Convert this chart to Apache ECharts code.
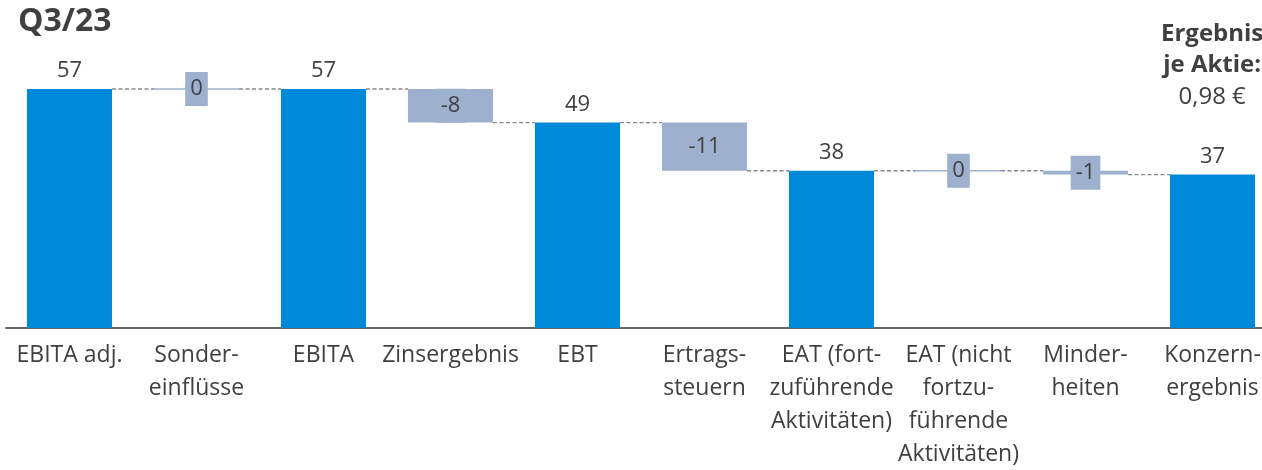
<!DOCTYPE html>
<html>
<head>
<meta charset="utf-8">
<script src="https://cdn.jsdelivr.net/npm/echarts@6/dist/echarts.min.js"></script>
<style>
html,body{margin:0;padding:0;background:#fff;}
#chart{width:1262px;height:470px;}
</style>
</head>
<body>
<div id="chart"></div>
<script>
// ---- data ----
const titleText = 'Q3/23';
const categories = ['EBITA adj.', 'Sonder-\neinflüsse', 'EBITA', 'Zinsergebnis', 'EBT', 'Ertrags-\nsteuern',
  'EAT (fort-\nzuführende\nAktivitäten)', 'EAT (nicht\nfortzu-\nführende\nAktivitäten)', 'Minder-\nheiten', 'Konzern-\nergebnis'];
const values = [57.0, 0, 57.0, -8.0, 49.0, -11.5, 37.5, 0, -0.9, 36.6];
const isTotal = [true, false, true, false, true, false, true, false, false, true];
const epsLines = ['Ergebnis', 'je Aktie:', '0,98 €'];

// ---- build waterfall items ----
const items = [];
let level = 0;
values.forEach(function (v, i) {
  let start, end;
  if (isTotal[i]) { start = 0; end = v; level = v; }
  else { start = level; end = level + v; level = end; }
  items.push([i, start, end, isTotal[i] ? 1 : 0, level, v]);
});

const FONT = '"Open Sans", sans-serif';
const TXT = '#404040';
const C_TOTAL = '#0089D8';
const C_DELTA = '#9DB0CE';

function renderItem(params, api) {
  const i = api.value(0), s = api.value(1), e = api.value(2), tot = api.value(3), after = api.value(4), v = api.value(5);
  const w = api.size([1, 0])[0] * 0.67;
  const hiVal = Math.max(s, e), loVal = Math.min(s, e);
  const pHi = api.coord([i, hiVal]);
  const pLo = api.coord([i, loVal]);
  const cx = pHi[0];
  let y = pHi[1], h = pLo[1] - pHi[1];
  const children = [];
  const color = tot ? C_TOTAL : C_DELTA;
  if (h < 1.5) { y = y - 0.75; h = 1.5; }
  children.push({ type: 'rect', shape: { x: cx - w / 2, y: y, width: w, height: h }, style: { fill: color } });
  // connector
  if (i < values.length - 1) {
    const pA = api.coord([i, after]);
    const pB = api.coord([i + 1, after]);
    children.push({ type: 'line', shape: { x1: cx + w / 2, y1: pA[1], x2: pB[0] - w / 2, y2: pA[1] },
      style: { stroke: '#888', lineWidth: 1.3, lineDash: [4, 2.5] } });
  }
  const lbl = String(Math.round(v));
  if (tot) {
    children.push({ type: 'text', style: { text: lbl, x: cx, y: pHi[1] - 7, align: 'center', verticalAlign: 'bottom',
      fontSize: 22, fontFamily: FONT, fill: TXT } });
  } else {
    children.push({ type: 'text', z2: 10, style: { text: lbl, x: cx, y: (pHi[1] + pLo[1]) / 2, align: 'center', verticalAlign: 'middle',
      fontSize: 22, fontFamily: FONT, fill: TXT, backgroundColor: C_DELTA, padding: [2, 5], lineHeight: 30 } });
  }
  return { type: 'group', children: children };
}

const chart = echarts.init(document.getElementById('chart'), null, { renderer: 'canvas' });
chart.setOption({
  animation: false,
  backgroundColor: '#fff',
  title: { text: titleText, left: 13, top: 1,
    textStyle: { fontSize: 32, fontWeight: 'bold', color: TXT, fontFamily: FONT } },
  grid: { left: 6, top: 89, width: 1270, bottom: 142, containLabel: false, outerBoundsMode: 'none' },
  xAxis: {
    type: 'category', data: categories,
    axisLine: { lineStyle: { color: '#666', width: 2 } },
    axisTick: { show: false },
    axisLabel: { interval: 0, fontSize: 23, lineHeight: 33, margin: 11, color: TXT, fontFamily: FONT, align: 'center', hideOverlap: false }
  },
  yAxis: { type: 'value', min: 0, max: 57, show: false, splitLine: { show: false } },
  graphic: [{
    type: 'text', left: 1161, top: 22,
    style: {
      text: '{b|' + epsLines[0] + '}\n{b|' + epsLines[1] + '}\n{n|' + epsLines[2] + '}',
      align: 'center',
      rich: {
        b: { fontSize: 24, fontWeight: 'bold', fontFamily: FONT, fill: TXT, color: TXT, lineHeight: 31, align: 'center' },
        n: { fontSize: 24, fontFamily: FONT, fill: TXT, color: TXT, lineHeight: 33, align: 'center' }
      }
    }
  }],
  series: [{ type: 'custom', renderItem: renderItem, data: items, clip: false }]
});
</script>
</body>
</html>
